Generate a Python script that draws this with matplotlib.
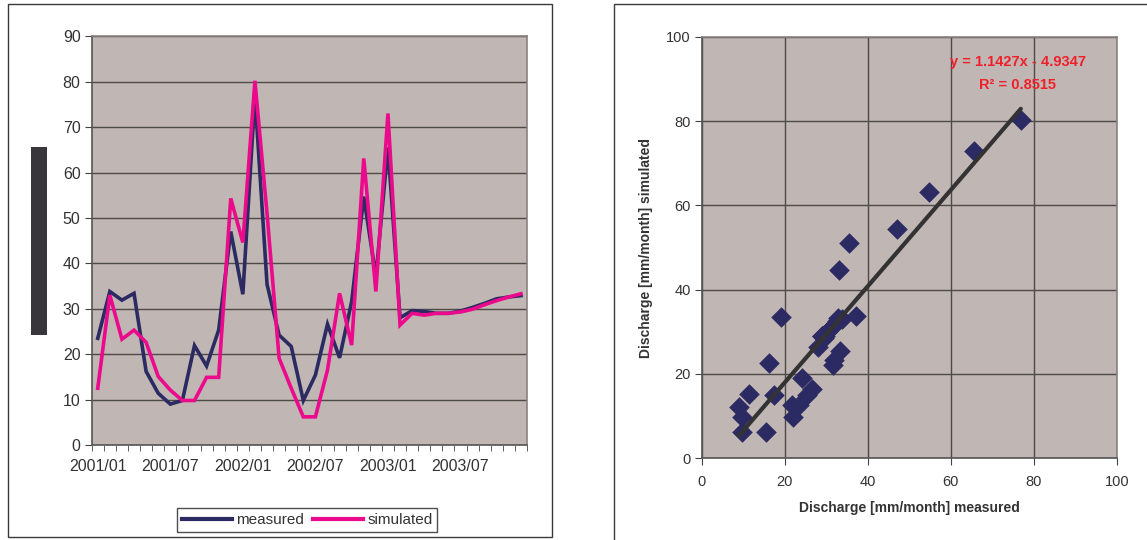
import numpy as np
import matplotlib.pyplot as plt
from matplotlib.patches import Rectangle
from matplotlib.lines import Line2D

plt.rcParams['font.family'] = ['Liberation Sans', 'DejaVu Sans']

# monthly discharge 2001/01 .. 2003/12 [mm/month]
measured = [23.5, 33.8, 31.9, 33.4, 16.2, 11.4, 9.0, 9.8, 21.9, 17.4, 25.3, 47.0,
            33.2, 76.9, 35.4, 24.2, 21.7, 9.8, 15.4, 26.6, 19.2, 31.6, 54.7, 37.1,
            65.5, 28.0, 29.6, 29.4, 29.0, 29.0, 29.5, 30.3, 31.2, 32.2, 32.6, 32.9]
simulated = [12.5, 33.0, 23.3, 25.3, 22.6, 15.1, 12.1, 9.8, 9.8, 14.9, 14.9, 54.3,
             44.6, 80.2, 51.0, 19.1, 12.5, 6.2, 6.2, 16.5, 33.4, 22.0, 63.1, 33.8,
             73.0, 26.4, 29.0, 28.6, 29.0, 29.0, 29.3, 29.9, 30.9, 31.8, 32.6, 33.3]
month_labels = ['2001/01', '2001/07', '2002/01', '2002/07', '2003/01', '2003/07']
label_step = 6

slope = 1.1427
intercept = -4.9347
r2 = 0.8515

bg = '#c0b6b3'
grid_c = '#4d4a4a'
navy = '#2c2a62'
pink = '#ec0a8c'
txt = '#333333'

W, H = 1147, 540
fig = plt.figure(figsize=(W / 100, H / 100), dpi=100)

def px_axes(x0, y0, x1, y1):
    return fig.add_axes([x0 / W, 1 - y1 / H, (x1 - x0) / W, (y1 - y0) / H])

# panel frames
fig.patches.append(Rectangle((8 / W, 1 - 537 / H), 544 / W, 533 / H, transform=fig.transFigure,
                             fill=False, edgecolor='#3a3a3a', lw=1))
fig.patches.append(Rectangle((614 / W, -0.1), 0.5, 1 - 4 / H + 0.1, transform=fig.transFigure,
                             fill=False, edgecolor='#3a3a3a', lw=1))
# the dark block where the left y label would be
fig.patches.append(Rectangle((31 / W, 1 - 335 / H), 16 / W, 188 / H, transform=fig.transFigure,
                             facecolor='#38363b', edgecolor='none'))

# ---------- time series ----------
ax = px_axes(91.7, 36.3, 527, 445)
ax.set_facecolor(bg)
n = len(measured)
x = np.arange(n)
ax.plot(x, measured, color=navy, lw=2.6, solid_joinstyle='miter')
ax.plot(x, simulated, color=pink, lw=2.6, solid_joinstyle='miter')
ax.set_xlim(-0.5, n - 0.5)
ax.set_ylim(0, 90)
ax.set_yticks(range(0, 91, 10))
ax.yaxis.grid(True, color=grid_c, lw=1)
ax.set_axisbelow(True)
ax.set_xticks(np.arange(0, n, label_step))
ax.set_xticklabels(month_labels)
ax.set_xticks(np.arange(-0.5, n, 1), minor=True)
ax.tick_params(axis='x', which='major', length=0, pad=10, labelsize=11.5, labelcolor=txt)
ax.tick_params(axis='x', which='minor', length=4, direction='out', color='#444')
ax.tick_params(axis='y', length=5, direction='out', color='#444', labelsize=11.5,
               labelcolor=txt, pad=3)
for s in ['left', 'bottom']:
    ax.spines[s].set_color('#555')
    ax.spines[s].set_linewidth(1.2)
for s in ['top', 'right']:
    ax.spines[s].set_color('#8a8282')
    ax.spines[s].set_linewidth(1.2)

handles = [Line2D([], [], color=navy, lw=3), Line2D([], [], color=pink, lw=3)]
leg = fig.legend(handles, ['measured', 'simulated'], loc='center',
                 bbox_to_anchor=(307 / W, 1 - 520 / H), ncol=2, frameon=True,
                 fancybox=False, edgecolor='#222', fontsize=11, handlelength=3.3,
                 handletextpad=0.25, columnspacing=0.6, borderpad=0.3,
                 borderaxespad=0)
leg.get_frame().set_linewidth(1)
for t in leg.get_texts():
    t.set_color(txt)

# ---------- scatter ----------
ax2 = px_axes(701.7, 37, 1116.7, 458)
ax2.set_facecolor(bg)
ax2.scatter(measured, simulated, marker='D', s=110, color=navy, zorder=3, linewidths=0)
xs = np.array([min(measured), max(measured)])
ax2.plot(xs, slope * xs + intercept, color='#333333', lw=3, zorder=4, solid_capstyle='round')
ax2.set_xlim(0, 100)
ax2.set_ylim(0, 100)
ax2.set_xticks(range(0, 101, 20))
ax2.set_yticks(range(0, 101, 20))
ax2.grid(True, color=grid_c, lw=1)
ax2.set_axisbelow(True)
ax2.tick_params(length=5, direction='out', color='#444', labelsize=10.5, labelcolor=txt, pad=3)
ax2.tick_params(axis='x', pad=7)
for s in ['left', 'bottom']:
    ax2.spines[s].set_color('#555')
    ax2.spines[s].set_linewidth(1.2)
for s in ['top', 'right']:
    ax2.spines[s].set_color('#8a8282')
    ax2.spines[s].set_linewidth(1.2)
ax2.set_xlabel('Discharge [mm/month] measured', fontsize=10, fontweight='bold', color=txt)
ax2.set_ylabel('Discharge [mm/month] simulated', fontsize=10, fontweight='bold', color=txt)
ax2.xaxis.set_label_coords(0.5, -0.102)
ax2.yaxis.set_label_coords(-0.118, 0.5)
ax2.text(76.2, 94.1, 'y = %.4fx - %.4f' % (slope, -intercept), color='#f0202a',
         fontsize=10.5, fontweight='bold', ha='center', va='center')
ax2.text(76.2, 88.6, 'R² = %.4f' % r2, color='#f0202a',
         fontsize=10.5, fontweight='bold', ha='center', va='center')

fig.savefig('out.png', dpi=100)
